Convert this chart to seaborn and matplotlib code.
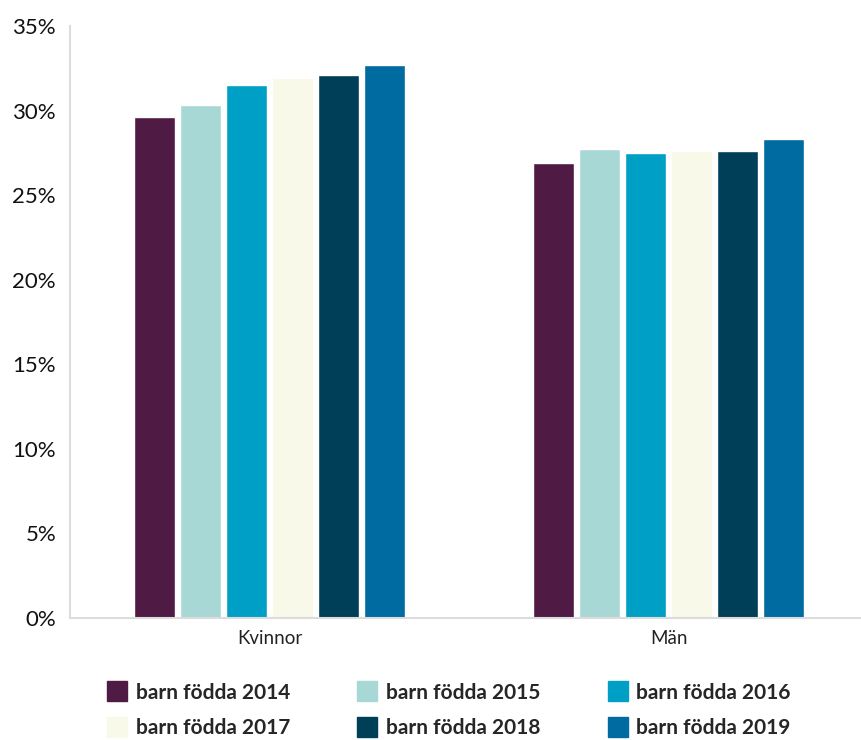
import matplotlib
matplotlib.use("Agg")
import matplotlib.pyplot as plt
import seaborn as sns
import pandas as pd
from matplotlib.lines import Line2D
from matplotlib.ticker import FuncFormatter

groups = ["Kvinnor", "Män"]
years = ["barn födda 2014", "barn födda 2015", "barn födda 2016",
         "barn födda 2017", "barn födda 2018", "barn födda 2019"]
kvinnor = [29.6, 30.3, 31.5, 31.9, 32.1, 32.7]
man = [26.9, 27.7, 27.5, 27.6, 27.6, 28.3]
colors = ["#4f1a44", "#a8d8d6", "#00a0c6", "#f8f9e8", "#003f58", "#006ba1"]

rows = []
for y, v in zip(years, kvinnor):
    rows.append(("Kvinnor", y, v))
for y, v in zip(years, man):
    rows.append(("Män", y, v))
df = pd.DataFrame(rows, columns=["kon", "ar", "andel"])

sns.set_style("white")
plt.rcParams['font.family'] = ['Lato', 'DejaVu Sans']

fig = plt.figure(figsize=(8.62, 7.40), dpi=100)
ax = fig.add_axes([70/862, (740-618)/740, 798/862, (618-26)/740])

sns.barplot(data=df, x="kon", y="andel", hue="ar", palette=colors,
            width=0.69, gap=0.1, order=groups, hue_order=years, ax=ax,
            saturation=1, errorbar=None)

ax.set_xlim(-0.5, 1.5)
ax.set_ylim(0, 35)
ax.set_yticks(range(0, 36, 5))
ax.yaxis.set_major_formatter(FuncFormatter(lambda v, p: f"{v:.0f}%"))
ax.tick_params(axis="y", labelsize=16, length=0, pad=10, colors="#111111")
ax.tick_params(axis="x", labelsize=13.5, length=0, pad=9, colors="#222222")
ax.set_xlabel("")
ax.set_ylabel("")
for s in ["top", "right"]:
    ax.spines[s].set_visible(False)
for s in ["left", "bottom"]:
    ax.spines[s].set_color("#dcdcdc")
    ax.spines[s].set_linewidth(1.5)

ax.get_legend().remove()
handles = [Line2D([], [], marker="s", linestyle="", markersize=15,
                  markerfacecolor=c, markeredgecolor=c) for c in colors]
order = [0, 3, 1, 4, 2, 5]
fig.legend([handles[i] for i in order], [years[i] for i in order],
           ncol=3, loc="upper left", bbox_to_anchor=(88/862, 1 - 664/740),
           frameon=False, handlelength=1.0, handletextpad=0.4,
           columnspacing=3.2, labelspacing=0.75,
           prop={"weight": "bold", "size": 15})

fig.savefig("out.png", dpi=100)
